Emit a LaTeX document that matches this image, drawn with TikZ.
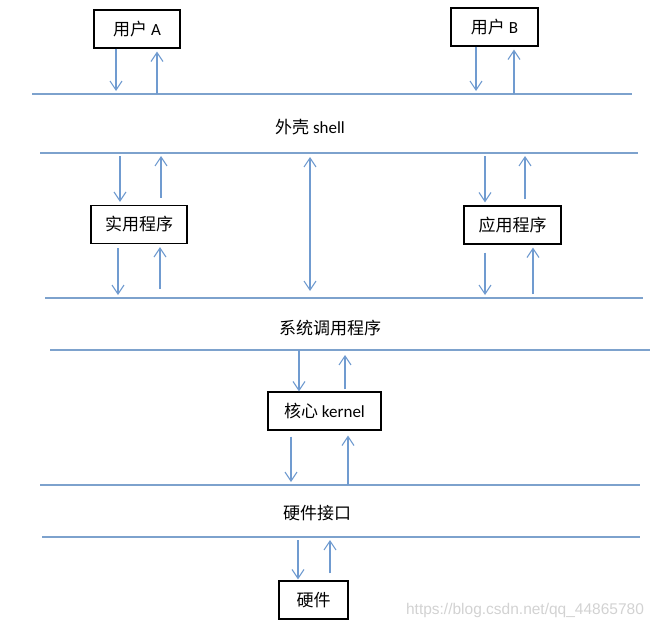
\documentclass[tikz,border=0pt]{standalone}
\usepackage{fontspec}
\setmainfont{Carlito}
\newfontfamily\zh{Noto Sans CJK SC}
\newfontfamily\wm{Liberation Sans}
\usetikzlibrary{arrows.meta}
\definecolor{layerblue}{RGB}{125,162,205}
\definecolor{arrowblue}{RGB}{112,155,208}
\begin{document}
\begin{tikzpicture}[x=1pt, y=-1pt,
	box/.style={draw, line width=1.1pt, minimum height=38pt, inner sep=2pt, font=\fontsize{17}{20}\selectfont},
	txt/.style={font=\fontsize{17}{20}\selectfont},
	layer/.style={draw=layerblue, line width=1.6pt},
	flow/.style={draw=arrowblue, line width=1.1pt, -{Straight Barb[length=9pt,width=12pt]}, shorten <=3pt, shorten >=3pt}]
	\useasboundingbox (0,0) rectangle (656,629);
	% layers
	\coordinate (L1) at (32,94);   \coordinate (L1e) at (632,94);
	\coordinate (L2) at (40,153);  \coordinate (L2e) at (638,153);
	\coordinate (L3) at (45,298);  \coordinate (L3e) at (643,298);
	\coordinate (L4) at (50,350);  \coordinate (L4e) at (650,350);
	\coordinate (L5) at (40,485);  \coordinate (L5e) at (640,485);
	\coordinate (L6) at (42,537);  \coordinate (L6e) at (640,537);
	\foreach \l in {L1,L2,L3,L4,L5,L6}
		\draw[layer] (\l) -- (\l e);
	% nodes
	\node[box, minimum width=86pt] (UA) at (137,29) {{\zh 用户} A};
	\node[box, minimum width=87pt] (UB) at (494.5,27) {{\zh 用户} B};
	\node[txt] (shell) at (310,127) {{\zh 外壳} shell};
	\node[box, minimum width=96pt] (util) at (139,224.5) {\zh 实用程序};
	\node[box, minimum width=97pt] (app) at (512.5,225) {\zh 应用程序};
	\node[txt] (sys) at (330,328) {\zh 系统调用程序};
	\node[box, minimum width=113pt] (kern) at (324.5,411) {{\zh 核心} kernel};
	\node[txt] (hwif) at (317,513) {\zh 硬件接口};
	\node[box, minimum width=69pt] (hw) at (313.5,600) {\zh 硬件};
	\node[font=\wm\fontsize{15.5}{18}\selectfont, text=gray!35] (mark) at (525,610) {https://blog.csdn.net/qq\_44865780};
	% users - shell
	\draw[flow, shorten <=0pt] ([xshift=-21pt]UA.south) -- ([xshift=-21pt]UA.south |- L1);
	\draw[flow, shorten <=0pt] ([xshift=20pt]UA.south |- L1) -- ([xshift=20pt]UA.south);
	\draw[flow, shorten <=0pt] ([xshift=-18.5pt]UB.south) -- ([xshift=-18.5pt]UB.south |- L1);
	\draw[flow, shorten <=0pt] ([xshift=19.5pt]UB.south |- L1) -- ([xshift=19.5pt]UB.south);
	% shell - programs
	\draw[flow] ([xshift=-19pt]util.north |- L2) -- ([xshift=-19pt]util.north);
	\draw[flow, shorten <=7pt] ([xshift=22pt]util.north) -- ([xshift=22pt]util.north |- L2);
	\draw[flow, shorten <=4pt] ([xshift=-21pt]util.south) -- ([xshift=-21pt]util.south |- L3);
	\draw[flow, shorten <=9pt] ([xshift=21pt]util.south |- L3) -- ([xshift=21pt]util.south);
	\draw[flow] ([xshift=-27.5pt]app.north |- L2) -- ([xshift=-27.5pt]app.north);
	\draw[flow, shorten <=6pt] ([xshift=12.5pt]app.north) -- ([xshift=12.5pt]app.north |- L2);
	\draw[flow, shorten <=8pt] ([xshift=-27.5pt]app.south) -- ([xshift=-27.5pt]app.south |- L3);
	\draw[flow, shorten <=4pt] ([xshift=20.5pt]app.south |- L3) -- ([xshift=20.5pt]app.south);
	\draw[flow, {Straight Barb[length=9pt,width=12pt]}-{Straight Barb[length=9pt,width=12pt]}, shorten <=4pt, shorten >=7pt] (shell.south |- L2) -- (shell.south |- L3);
	% system calls - kernel
	\draw[flow, shorten <=0pt, shorten >=0pt] ([xshift=-25.5pt]kern.north |- L4) -- ([xshift=-25.5pt]kern.north);
	\draw[flow, shorten <=2pt, shorten >=5pt] ([xshift=20.5pt]kern.north) -- ([xshift=20.5pt]kern.north |- L4);
	\draw[flow, shorten <=6pt] ([xshift=-33.5pt]kern.south) -- ([xshift=-33.5pt]kern.south |- L5);
	\draw[flow, shorten <=0pt, shorten >=5pt] ([xshift=23.5pt]kern.south |- L5) -- ([xshift=23.5pt]kern.south);
	% hardware interface - hardware
	\draw[flow, shorten >=1pt] ([xshift=-15.5pt]hw.north |- L6) -- ([xshift=-15.5pt]hw.north);
	\draw[flow, shorten <=7pt, shorten >=3pt] ([xshift=16.5pt]hw.north) -- ([xshift=16.5pt]hw.north |- L6);
\end{tikzpicture}
\end{document}
